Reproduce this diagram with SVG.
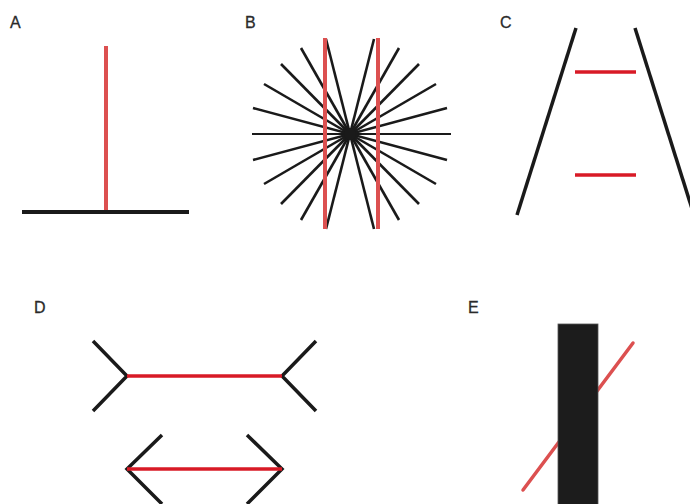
<svg xmlns="http://www.w3.org/2000/svg" width="690" height="504" viewBox="0 0 690 504">
<style>
.lbl{font-family:"Liberation Sans",Arial,sans-serif;font-size:16px;fill:#2a2a2a;stroke:#2a2a2a;stroke-width:0.3}
.blk{stroke:#1a1a1a;fill:none;stroke-linecap:butt}
.redA{stroke:#dc5050;fill:none}
.redC{stroke:#d81a26;fill:none}
.ray{stroke:#1a1a1a;stroke-width:2.6}
</style>
<rect width="690" height="504" fill="#ffffff"/>
<g id="figA">
<text class="lbl" x="10" y="28">A</text>
<line class="redA" x1="106" y1="46" x2="106" y2="211" stroke-width="4"/>
<line class="blk" x1="22" y1="212" x2="189" y2="212" stroke-width="4"/>
</g>
<g id="figB">
<text class="lbl" x="245" y="28">B</text>
<g transform="translate(350,134)">
<line x1="-98" y1="0" x2="101" y2="0" stroke="#1a1a1a" stroke-width="1.8"/>
<line class="ray" x1="-97" y1="-26" x2="97" y2="26"/>
<line class="ray" x1="-86" y1="-50" x2="86" y2="50"/>
<line class="ray" x1="-69" y1="-70" x2="69" y2="70"/>
<line class="ray" x1="-49" y1="-86" x2="49" y2="86"/>
<line class="ray" x1="-24" y1="-95" x2="24" y2="95"/>
<line class="ray" x1="97" y1="-26" x2="-97" y2="26"/>
<line class="ray" x1="86" y1="-50" x2="-86" y2="50"/>
<line class="ray" x1="69" y1="-70" x2="-69" y2="70"/>
<line class="ray" x1="49" y1="-86" x2="-49" y2="86"/>
<line class="ray" x1="24" y1="-95" x2="-24" y2="95"/>
<circle cx="0" cy="0" r="6" fill="#1a1a1a"/>
</g>
<line class="redA" x1="325" y1="38" x2="325" y2="229" stroke-width="4"/>
<line class="redA" x1="378" y1="38" x2="378" y2="229" stroke-width="4"/>
</g>
<g id="figC">
<text class="lbl" x="500" y="28">C</text>
<line class="blk" x1="576" y1="28" x2="517" y2="215" stroke-width="3.5"/>
<line class="blk" x1="635" y1="28" x2="694" y2="215" stroke-width="3.5"/>
<line class="redC" x1="575" y1="72" x2="636" y2="72" stroke-width="3.5"/>
<line class="redC" x1="575" y1="175" x2="636" y2="175" stroke-width="3.5"/>
</g>
<g id="figD">
<text class="lbl" x="34" y="313">D</text>
<polyline class="blk" points="93,341 127,376 93,411" stroke-width="3.5"/>
<polyline class="blk" points="316,341 282,376 316,411" stroke-width="3.5"/>
<line class="redC" x1="127" y1="376" x2="282" y2="376" stroke-width="3.5"/>
<polyline class="blk" points="162,435 127,469 162,504" stroke-width="3.5"/>
<polyline class="blk" points="247,435 282,469 247,504" stroke-width="3.5"/>
<line class="redC" x1="127" y1="469" x2="282" y2="469" stroke-width="3.5"/>
</g>
<g id="figE">
<text class="lbl" x="468" y="313">E</text>
<line class="redA" x1="523" y1="490" x2="633" y2="343" stroke-width="3.5" stroke-linecap="round"/>
<rect x="558" y="324" width="40" height="185" fill="#1c1c1c" stroke="#555" stroke-width="0.8"/>
</g>
</svg>
